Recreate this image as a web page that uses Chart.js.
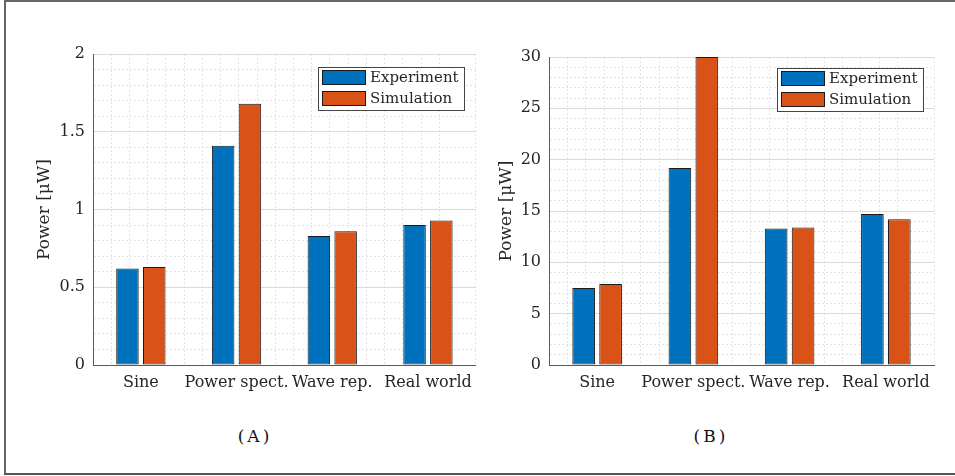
<!DOCTYPE html>
<html><head><meta charset="utf-8">
<script src="https://cdn.jsdelivr.net/npm/chart.js@4.4.1/dist/chart.umd.min.js"></script>
<style>
html,body{margin:0;padding:0;background:#fff;width:955px;height:476px;overflow:hidden;}
#frame{position:absolute;left:4px;top:0px;width:980px;height:471px;border-top:2px solid #666;border-left:2px solid #666;border-bottom:2px solid #555;}
canvas{position:absolute;top:0;}
#cA{left:0}
#cB{left:480px}
.cap{position:absolute;top:426px;font-family:"DejaVu Serif";font-size:17px;letter-spacing:3px;color:#111;transform:translateX(-50%);white-space:nowrap}
</style></head><body>
<div id="frame"></div>
<canvas id="cA" width="480" height="420"></canvas>
<canvas id="cB" width="475" height="420"></canvas>
<div class="cap" style="left:255px">(A)</div>
<div class="cap" style="left:711px">(B)</div>
<script>
const categories = ["Sine", "Power spect.", "Wave rep.", "Real world"];
const seriesNames = ["Experiment", "Simulation"];
const experimentA = [0.62, 1.41, 0.83, 0.90];
const simulationA = [0.63, 1.68, 0.86, 0.93];
const experimentB = [7.5, 19.2, 13.3, 14.7];
const simulationB = [7.9, 30, 13.4, 14.2];
const yTicksA = [0, 0.5, 1, 1.5, 2];
const yTicksB = [0, 5, 10, 15, 20, 25, 30];
const yLabel = "Power [μW]";

const FONT = '"DejaVu Serif", serif';
const TXT = '#262626';
const MAJOR = '#dadada';
const MINOR = '#e4e4e4';

const boxLegend = {
  id: 'boxLegend',
  afterDatasetsDraw(chart, args, o) {
    const ctx = chart.ctx, ca = chart.chartArea;
    const ds = chart.data.datasets;
    ctx.save();
    ctx.font = '15px ' + FONT;
    const tw = Math.max(...ds.map(d => ctx.measureText(d.label).width));
    const sw = 44, sh = 15, padL = 4, gap = 4, padR = 5, rowH = 21;
    const w = Math.round(padL + sw + gap + tw + padR);
    const h = 3 + rowH * (ds.length - 1) + sh + 4;
    const x = Math.round(ca.right - o.dx - w), y = Math.round(ca.top + o.dy);
    ctx.fillStyle = '#fff';
    ctx.fillRect(x, y, w, h);
    ctx.strokeStyle = '#444'; ctx.lineWidth = 1;
    ctx.strokeRect(x + 0.5, y + 0.5, w, h);
    ds.forEach((d, i) => {
      const ry = y + 3 + i * rowH;
      ctx.fillStyle = d.backgroundColor;
      ctx.fillRect(x + padL, ry, sw, sh);
      ctx.strokeStyle = '#1a1a1a';
      ctx.strokeRect(x + padL + 0.5, ry + 0.5, sw - 1, sh - 1);
      ctx.fillStyle = TXT;
      ctx.textBaseline = 'middle';
      ctx.textAlign = 'left';
      ctx.fillText(d.label, x + padL + sw + gap, ry + sh / 2 + 1);
    });
    ctx.restore();
  }
};

function isMajor(v, ticks) {
  return ticks.some(t => Math.abs(t - v) < 1e-6);
}
function tickVal(c) {
  return (c && c.tick) ? c.tick.value : null;
}

function makeChart(id, exp, sim, yTicks, L) {
  const yMin = yTicks[0], yMax = yTicks[yTicks.length - 1];
  const minorStep = (yTicks[1] - yTicks[0]) / 5;
  const n = categories.length;
  return new Chart(document.getElementById(id), {
    type: 'bar',
    data: {
      labels: categories,
      datasets: [
        { label: seriesNames[0], data: exp, backgroundColor: '#0072BD', borderColor: '#1a1a1a', borderWidth: 1, borderSkipped: false, categoryPercentage: 0.56, barPercentage: 0.84 },
        { label: seriesNames[1], data: sim, backgroundColor: '#D95319', borderColor: '#1a1a1a', borderWidth: 1, borderSkipped: false, categoryPercentage: 0.56, barPercentage: 0.84 }
      ]
    },
    options: {
      responsive: false,
      animation: false,
      devicePixelRatio: 1,
      layout: { padding: { left: 0, top: L.top, right: L.right, bottom: 0 } },
      plugins: { legend: { display: false }, tooltip: { enabled: false }, boxLegend: { dx: L.dx, dy: L.dy } },
      scales: {
        x: {
          type: 'category',
          position: 'bottom',
          grid: { display: false, drawTicks: false },
          border: { display: true, color: '#5a5a5a', width: 1 },
          ticks: { font: { family: FONT, size: 16 }, color: TXT, padding: 8, maxRotation: 0, autoSkip: false },
          afterFit: s => { s.height = 55; }
        },
        xg: {
          type: 'linear',
          position: 'bottom',
          min: 0.5, max: n + 0.5,
          ticks: { display: false, stepSize: 0.2, autoSkip: false },
          grid: {
            drawTicks: false,
            color: c => {
              const v = tickVal(c);
              if (v === null) return MINOR;
              if (Math.abs(v - 0.5) < 1e-6 || Math.abs(v - (n + 0.5)) < 1e-6) return 'rgba(0,0,0,0)';
              return Math.abs(v - Math.round(v)) < 1e-6 ? MAJOR : MINOR;
            },
            lineWidth: 1
          },
          border: {
            display: false,
            dash: c => {
              const v = tickVal(c);
              return (v !== null && Math.abs(v - Math.round(v)) < 1e-6) ? [] : [2, 2];
            }
          },
          afterFit: s => { s.height = 0; }
        },
        y: {
          type: 'linear',
          min: yMin, max: yMax,
          ticks: {
            stepSize: minorStep,
            autoSkip: false,
            font: { family: FONT, size: 16 },
            color: TXT,
            padding: 8,
            callback: v => isMajor(v, yTicks) ? String(Math.round(v * 10) / 10) : ''
          },
          grid: {
            drawTicks: false,
            color: c => {
              const v = tickVal(c);
              return (v !== null && isMajor(v, yTicks)) ? MAJOR : MINOR;
            },
            lineWidth: 1
          },
          border: {
            display: true, color: '#5a5a5a', width: 1,
            dash: c => {
              const v = tickVal(c);
              return (v !== null && !isMajor(v, yTicks)) ? [2, 2] : [];
            }
          },
          title: {
            display: true, text: yLabel,
            font: { family: FONT, size: 17 }, color: TXT,
            padding: { top: L.tp, bottom: 0 }
          },
          afterFit: s => { s.width = L.yw; }
        }
      }
    },
    plugins: [boxLegend]
  });
}

makeChart('cA', experimentA, simulationA, yTicksA, { top: 54, right: 2, yw: 93, tp: 34, dx: 12, dy: 13 });
makeChart('cB', experimentB, simulationB, yTicksB, { top: 57, right: 21, yw: 69, tp: 16, dx: 11, dy: 11 });
</script>
</body></html>
